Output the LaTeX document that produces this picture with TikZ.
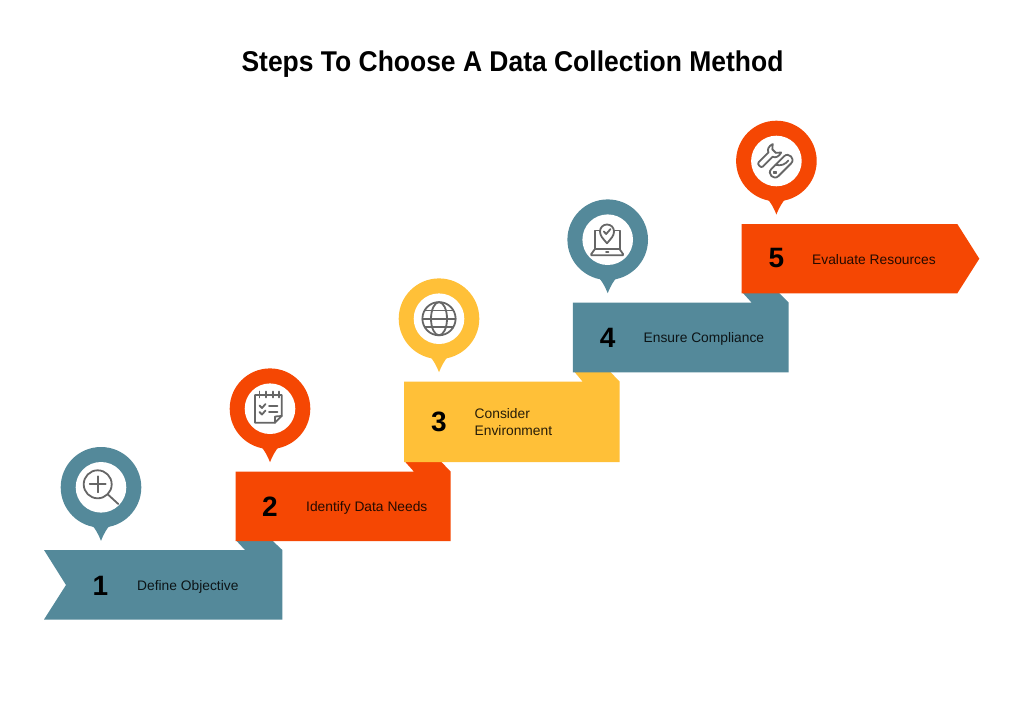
\documentclass[tikz,border=0pt]{standalone}
\usepackage{fontspec}
\setmainfont{Liberation Sans}
\definecolor{teal1}{HTML}{54899A}
\definecolor{orange1}{HTML}{F54703}
\definecolor{yellow1}{HTML}{FFC038}
\definecolor{icongray}{HTML}{666666}
\tikzset{
  titletext/.style={inner sep=0pt,xscale=.925,font=\bfseries\fontsize{28.6}{32}\selectfont,text=black},
  numtext/.style={inner sep=0pt,font=\bfseries\fontsize{28}{32}\selectfont,text=black},
  steptext/.style={inner sep=0pt,anchor=west,align=left,font=\fontsize{13.8}{17}\selectfont,text=black,text opacity=.85},
  icon/.style={draw=icongray,line width=1.8pt,line cap=round,line join=round},
}
% #1 cx, #2 cy, #3 colour
\newcommand{\pinmark}[3]{%
  \fill[#3] (#1-9,#2+38) .. controls (#1-6,#2+41) and (#1-3,#2+46) .. (#1,#2+53.5) .. controls (#1+3,#2+46) and (#1+6,#2+41) .. (#1+9,#2+38) -- cycle;
  \fill[#3] (#1,#2) circle[radius=40.3];
  \fill[white] (#1,#2) circle[radius=25.3];
}
\begin{document}
\begin{tikzpicture}[x=1pt,y=-1pt]
\useasboundingbox (0,0) rectangle (1024,709);
\fill[white] (0,0) rectangle (1024,709);
\node[titletext] (title) at (512.5,64.5) {Steps To Choose A Data Collection Method};

% ribbons
\fill[teal1] (44,550) -- (245,550) -- (235.7,540) -- (271.7,540) -- (282.3,550) -- (282.3,619.5) -- (44,619.5) -- (66,585) -- cycle;
\fill[orange1] (235.5,471.7) -- (414,471.7) -- (404,460.5) -- (440,460.5) -- (450.7,471.7) -- (450.7,541) -- (235.5,541) -- cycle;
\fill[yellow1] (404,381.7) -- (582.7,381.7) -- (573.3,370.5) -- (609,370.5) -- (619.7,381.7) -- (619.7,462) -- (404,462) -- cycle;
\fill[teal1] (572.9,302.7) -- (751.7,302.7) -- (741.7,291.7) -- (777.7,291.7) -- (788.7,302.7) -- (788.7,372.3) -- (572.9,372.3) -- cycle;
\fill[orange1] (741.7,224) -- (957.3,224) -- (979.3,258.7) -- (957.3,293.3) -- (741.7,293.3) -- cycle;

% pins
\pinmark{101}{487.3}{teal1}
\pinmark{270}{408.7}{orange1}
\pinmark{439}{318.7}{yellow1}
\pinmark{607.7}{239.7}{teal1}
\pinmark{776.4}{161}{orange1}

% numbers
\node[numtext] (n1) at (100.5,585.5) {1};
\node[numtext] (n2) at (270,506.5) {2};
\node[numtext] (n3) at (439,421.5) {3};
\node[numtext] (n4) at (607.7,337.5) {4};
\node[numtext] (n5) at (776.5,258.5) {5};

% labels
\node[steptext] (l1) at (137,586.5) {Define Objective};
\node[steptext] (l2) at (306,507.5) {Identify Data Needs};
\node[steptext] (l3) at (474.5,422) {Consider\\Environment};
\node[steptext] (l4) at (643.5,338.5) {Ensure Compliance};
\node[steptext] (l5) at (812,259.5) {Evaluate Resources};

% icon 1: magnifier
\draw[icon] (97.7,484.3) circle[radius=14];
\draw[icon] (89.7,484.3) -- (105.7,484.3) (97.7,476.3) -- (97.7,492.3);
\draw[icon] (107.7,494.3) -- (118.3,504);

% icon 2: checklist
\draw[icon] (255,395) -- (281.7,395) -- (281.7,416) -- (275,422.7) -- (255,422.7) -- cycle;
\draw[icon] (275,422.7) -- (275,416.5) -- (281.7,416);
\draw[icon] (259.5,391.5) -- (259.5,397.5) (266,391.5) -- (266,397.5) (272.7,391.5) -- (272.7,397.5) (279,391.5) -- (279,397.5);
\draw[icon] (259.5,405.5) -- (262,408) -- (265.5,404);
\draw[icon] (259.5,412) -- (262,414.5) -- (265.5,410.5);
\draw[icon] (269,406) -- (277.5,406) (269,412) -- (277.5,412);

% icon 3: globe
\draw[icon] (439,318.7) circle[radius=16.6];
\draw[icon] (439,318.7) ellipse[x radius=8,y radius=16.6];
\draw[icon] (422.4,318.7) -- (455.6,318.7);
\draw[icon] (425,310.5) -- (453,310.5) (425,326.9) -- (453,326.9);

% icon 4: laptop with shield
\draw[icon] (600.5,230.5) -- (594.7,230.5) -- (594.7,249.3) -- (619.7,249.3) -- (619.7,230.5) -- (613.5,230.5);
\draw[icon] (594.7,249.3) -- (591.3,254) -- (591.3,255.3) -- (623,255.3) -- (623,254) -- (619.7,249.3);
\draw[icon] (606,251.8) -- (608.5,251.8);
\draw[icon,fill=white] (607,243.3) .. controls (603,238.5) and (600,236) .. (600,231.5) .. controls (600,227.5) and (603,224.5) .. (607,224.5) .. controls (611,224.5) and (614,227.5) .. (614,231.5) .. controls (614,236) and (611,238.5) .. (607,243.3) -- cycle;
\draw[icon] (603.8,231.5) -- (606.2,234) -- (610.5,229);

% icon 5: wrench and multitool
\begin{scope}[shift={(768.8,156.4)},rotate=45]
\draw[icon] (-11.5,-3) -- (2.5,-3) .. controls (3.5,-6) and (7,-7.5) .. (11.5,-6) -- (7.5,-2.5) -- (7.5,2.5) -- (11.5,6) .. controls (7,7.5) and (3.5,6) .. (2.5,3) -- (-11.5,3) .. controls (-14,3) and (-14,-3) .. (-11.5,-3) -- cycle;
\end{scope}
\begin{scope}[shift={(781.2,166.2)},rotate=45]
\draw[icon] (-9,-5) -- (9,-5) .. controls (15.5,-5) and (15.5,5) .. (9,5) -- (-9,5) .. controls (-15.5,5) and (-15.5,-5) .. (-9,-5) -- cycle;
\draw[icon] (-9,0) circle[radius=1.4];
\draw[icon] (-3,-5) .. controls (0,0) and (4,1.5) .. (9,1) ;
\end{scope}
\end{tikzpicture}
\end{document}
